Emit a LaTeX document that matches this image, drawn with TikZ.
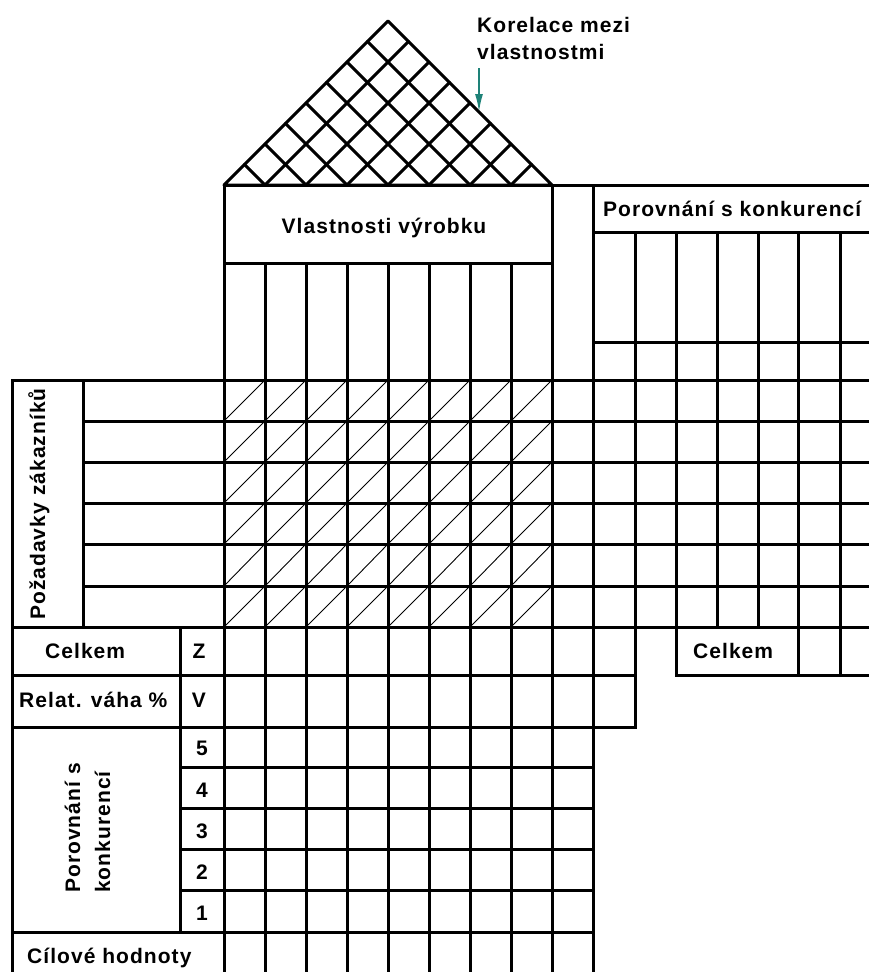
\documentclass[tikz,border=0pt]{standalone}
\usepackage{fontspec}
\setmainfont{Liberation Sans}[LetterSpace=5]
\usetikzlibrary{arrows.meta}
\definecolor{pointer}{RGB}{30,130,120}
\begin{document}
\begin{tikzpicture}[x=1pt,y=-1pt,
  grid/.style={line width=3pt,line cap=rect},
  hatch/.style={line width=0.9pt},
  roof/.style={line width=3pt,line join=round,line cap=round},
  lab/.style={inner sep=0pt,font=\fontsize{21}{25}\selectfont\bfseries},
  pointerarrow/.style={pointer,line width=1.8pt,-{Latex[length=18pt,width=8pt]}}]
\useasboundingbox (0,0) rectangle (869,972);
\fill[white] (0,0) rectangle (869,972);

% correlation roof with its diamond lattice
\draw[roof] (224,185) -- (388,21) -- (552,185) -- cycle;
\foreach \k in {1,...,7}{
  \pgfmathsetmacro{\xb}{224+41*\k}
  \pgfmathsetmacro{\xl}{(\xb+224)/2}
  \pgfmathsetmacro{\yl}{185-(\xb-224)/2}
  \pgfmathsetmacro{\xr}{(\xb+552)/2}
  \pgfmathsetmacro{\yr}{185-(552-\xb)/2}
  \draw[roof] (\xl,\yl) -- (\xb,185) -- (\xr,\yr);
}

% horizontal rules
\draw[grid] (224,185) -- (869,185);
\draw[grid] (593,232) -- (869,232);
\draw[grid] (224,263) -- (552,263);
\draw[grid] (593,342) -- (869,342);
\draw[grid] (12,380) -- (869,380);
\foreach \y in {421,462,503,544,586}{\draw[grid] (83,\y) -- (869,\y);}
\draw[grid] (12,627) -- (869,627);
\draw[grid] (12,675) -- (635,675);
\draw[grid] (676,675) -- (869,675);
\draw[grid] (12,727) -- (635,727);
\foreach \y in {767,808,849,890}{\draw[grid] (180,\y) -- (593,\y);}
\draw[grid] (12,932) -- (593,932);

% vertical rules
\draw[grid] (12,380) -- (12,972);
\draw[grid] (83,380) -- (83,627);
\draw[grid] (180,627) -- (180,932);
\draw[grid] (224,185) -- (224,972);
\foreach \x in {265,306,347,388,429,470,511}{\draw[grid] (\x,263) -- (\x,972);}
\draw[grid] (552,185) -- (552,972);
\draw[grid] (593,185) -- (593,972);
\draw[grid] (635,232) -- (635,727);
\draw[grid] (676,232) -- (676,675);
\foreach \x in {717,758}{\draw[grid] (\x,232) -- (\x,627);}
\foreach \x in {798,840}{\draw[grid] (\x,232) -- (\x,675);}

% relationship matrix: one diagonal per cell
\foreach \i in {0,...,7}{
  \foreach \yt/\yb in {380/421,421/462,462/503,503/544,544/586,586/627}{
    \draw[hatch] (224+41*\i,\yb) -- (265+41*\i,\yt);
  }
}

% labels
\node[lab,anchor=base west] (korelace) at (477,32) {Korelace mezi};
\node[lab,anchor=base west] (vlastnostmi) at (477,59) {vlastnostmi};
\coordinate (ptail) at (479,68);
\coordinate (ptip) at (479,112);
\draw[pointerarrow] (ptail) -- (ptip);

\node[lab,anchor=base] (vyrobek) at (384,233) {Vlastnosti výrobku};
\node[lab,anchor=base west] (konkurence) at (603,216) {Porovnání s konkurencí};
\node[lab,rotate=90,anchor=base west] (pozadavky) at (45,620) {Požadavky zákazníků};

\node[lab,anchor=base west] (celkemL) at (45,658) {Celkem};
\node[lab,anchor=base] (zz) at (199,658) {Z};
\node[lab,anchor=base west] (relat) at (19,707) {Relat. váha \%};
\node[lab,anchor=base] (vv) at (199,707) {V};
\node[lab,rotate=90,anchor=base west] (cmpA) at (80,893) {Porovnání s};
\node[lab,rotate=90,anchor=base west] (cmpB) at (110,893) {konkurencí};
\foreach \n/\yb in {5/755,4/797,3/838,2/879,1/920}{
  \node[lab,anchor=base] (score\n) at (202,\yb) {\n};
}
\node[lab,anchor=base west] (cilove) at (27,963) {Cílové hodnoty};
\node[lab,anchor=base west] (celkemR) at (693,658) {Celkem};
\end{tikzpicture}
\end{document}
